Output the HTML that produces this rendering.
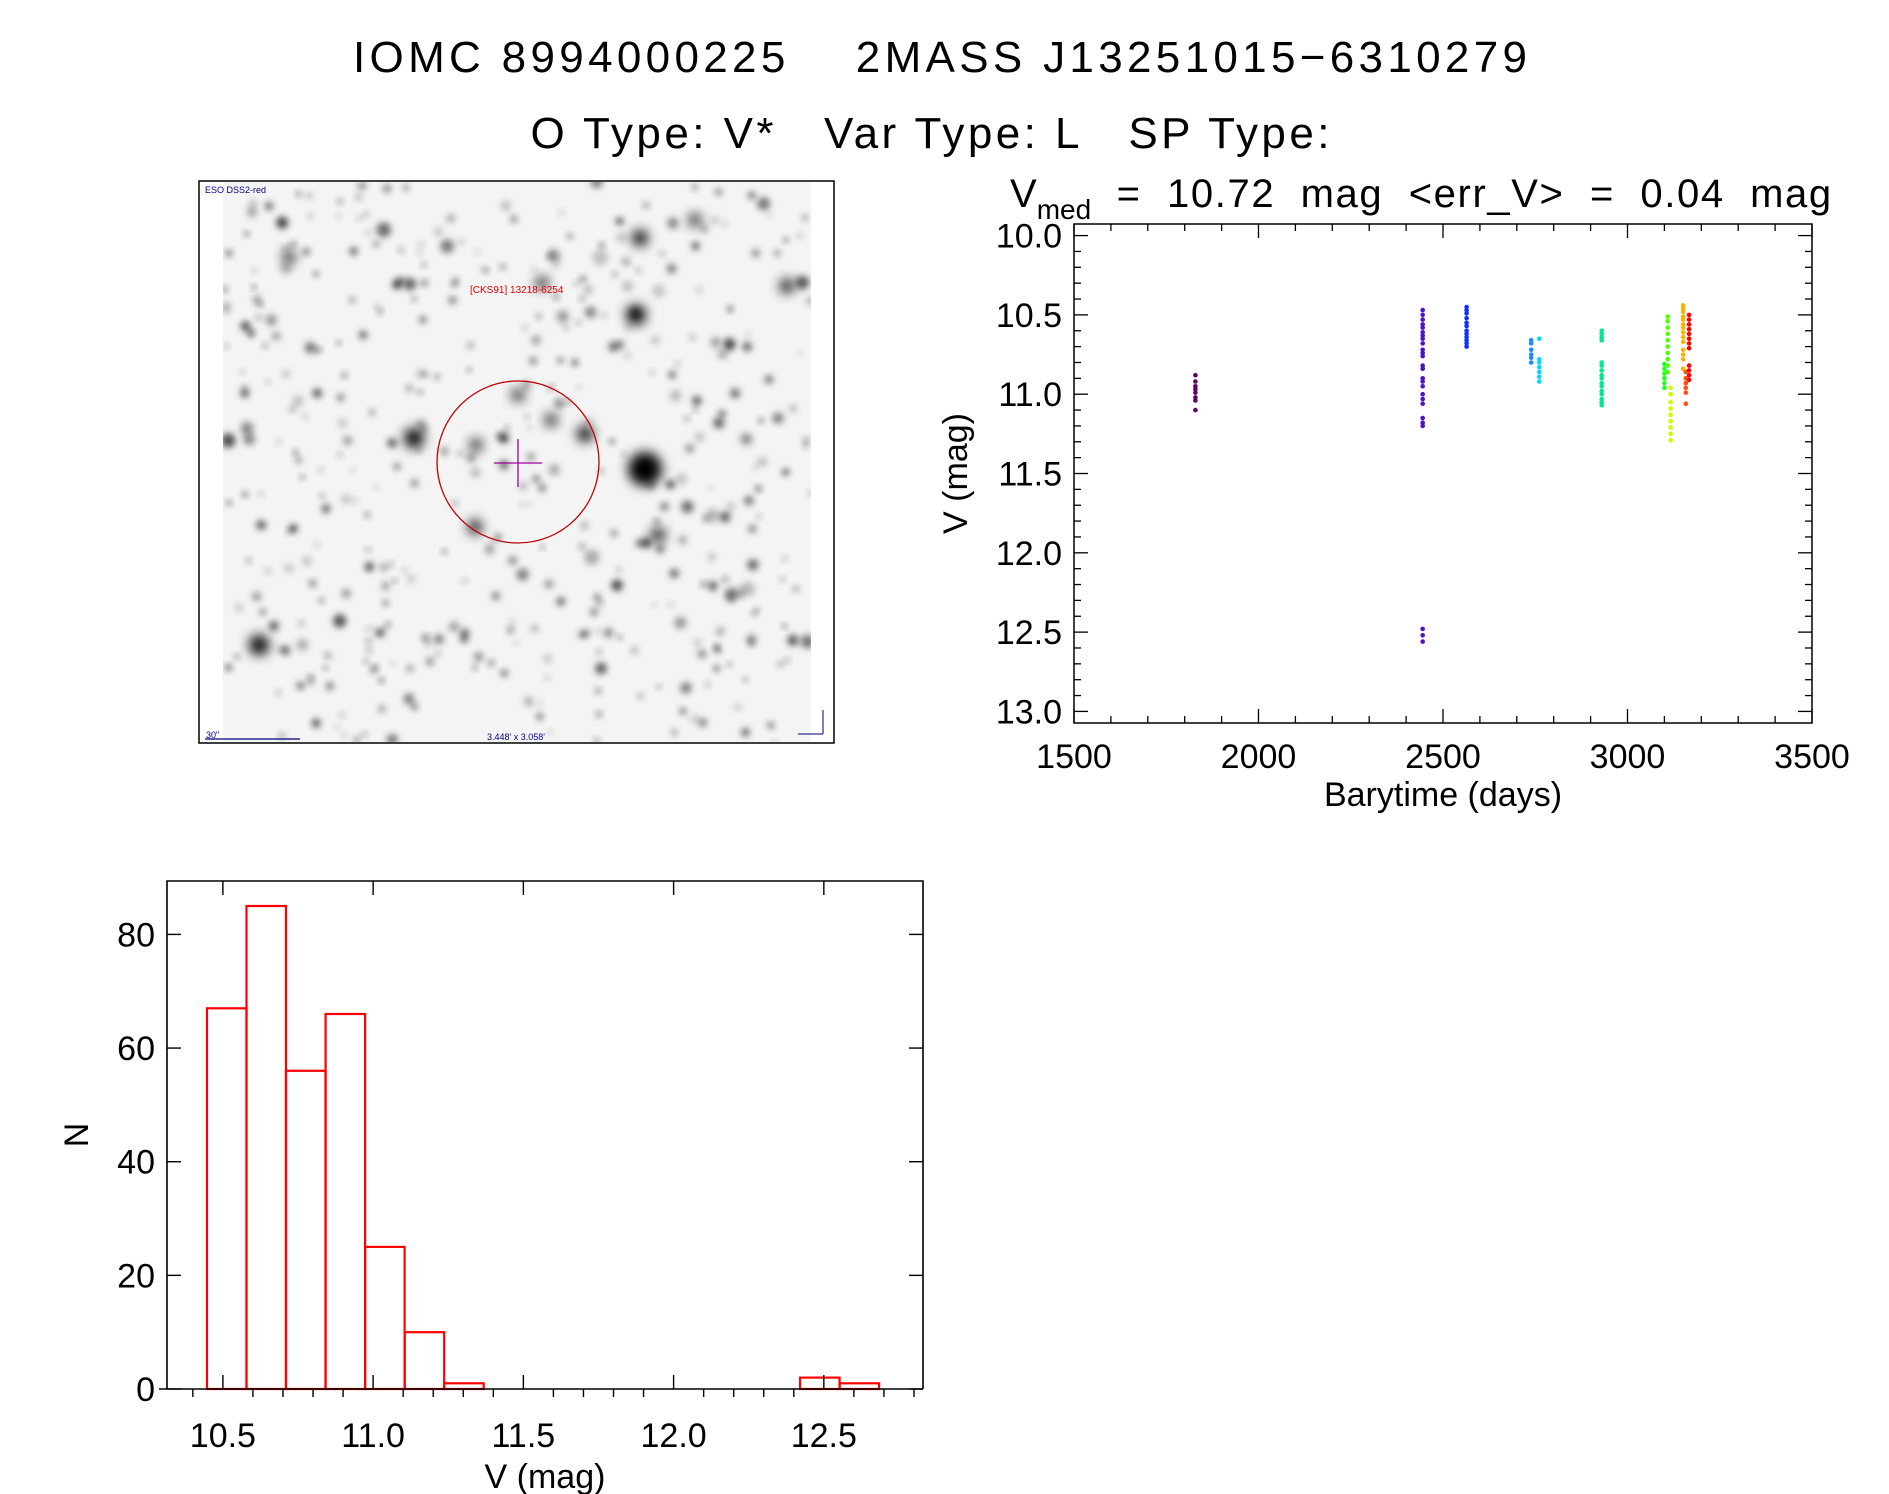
<!DOCTYPE html>
<html><head><meta charset="utf-8"><style>
html,body{margin:0;padding:0;background:#fff;}
svg{display:block;font-family:"Liberation Sans","DejaVu Sans",sans-serif;}
</style></head><body>
<svg id="fig" width="1889" height="1494" viewBox="0 0 1889 1494" xmlns="http://www.w3.org/2000/svg">
<defs>
<filter id="blur3" x="-80%" y="-80%" width="260%" height="260%"><feGaussianBlur stdDeviation="3.5"/></filter>
<filter id="blur6" x="-80%" y="-80%" width="260%" height="260%"><feGaussianBlur stdDeviation="6"/></filter>
<clipPath id="imgclip"><rect x="223" y="182" width="588" height="560"/></clipPath>
</defs>
<text x="940" y="72" font-size="44" text-anchor="middle" fill="#000" xml:space="preserve" textLength="1174" lengthAdjust="spacing">IOMC 8994000225    2MASS J13251015−6310279</text>
<text x="930" y="148" font-size="44" text-anchor="middle" fill="#000" xml:space="preserve" textLength="799" lengthAdjust="spacing">O Type: V*   Var Type: L   SP Type:</text>
<text x="1010" y="207" font-size="40" fill="#000" xml:space="preserve">V<tspan font-size="28" dy="12">med</tspan><tspan dy="-12" textLength="740" lengthAdjust="spacing">  =  10.72  mag  &lt;err_V&gt;  =  0.04  mag</tspan></text>

<g id="img">
<rect x="199" y="181" width="635" height="562" fill="#fff" stroke="#000" stroke-width="1.5"/>
<rect x="223" y="182" width="588" height="560" fill="#f4f4f4"/>
<g id="stars" clip-path="url(#imgclip)"></g>
<circle cx="518" cy="462" r="81" fill="none" stroke="#c00000" stroke-width="1.3"/>
<line x1="494" y1="463" x2="542" y2="463" stroke="#a000a0" stroke-width="1.3"/>
<line x1="518" y1="439" x2="518" y2="487" stroke="#a000a0" stroke-width="1.3"/>
<text x="205" y="193" font-size="9" fill="#000080">ESO DSS2-red</text>
<text x="470" y="293" font-size="10" fill="#e00000">[CKS91] 13218-6254</text>
<text x="206" y="738" font-size="9" fill="#000080">30"</text>
<line x1="205" y1="739" x2="300" y2="739" stroke="#000080" stroke-width="1.3"/>
<text x="487" y="740" font-size="9" fill="#000080">3.448' x 3.058'</text>
<line x1="823" y1="710" x2="823" y2="734" stroke="#000080"/>
<line x1="798" y1="734" x2="823" y2="734" stroke="#000080"/>
</g>

<g id="lc"></g>
<g id="hist"></g>
</svg>
<script>
// ---------- Light curve data ----------
const lcGroupTimes = [1829, 2445, 2564, 2739, 2761, 2930, 3100, 3109, 3117, 3151, 3158, 3167];
const lcGroupColors = ["#600068","#5010c8","#1030ff","#2088ff","#00d8ff","#00e890","#20ff20","#50ff00","#c8ff00","#ffb000","#ff5010","#ff0000"];
const lcGroupMags = [
 [10.88,10.92,10.95,10.97,10.99,11.02,11.04,11.10],
 [10.47,10.50,10.53,10.56,10.58,10.61,10.63,10.65,10.68,10.72,10.74,10.76,10.82,10.84,10.90,10.92,10.95,11.00,11.03,11.06,11.15,11.18,11.20,12.48,12.52,12.56],
 [10.45,10.47,10.49,10.52,10.55,10.57,10.60,10.62,10.64,10.66,10.68,10.70],
 [10.66,10.68,10.72,10.75,10.77,10.80],
 [10.65,10.78,10.80,10.83,10.86,10.89,10.92],
 [10.60,10.62,10.64,10.66,10.80,10.82,10.85,10.88,10.90,10.93,10.95,10.98,11.00,11.03,11.05,11.07],
 [10.81,10.84,10.87,10.90,10.93,10.96],
 [10.51,10.54,10.58,10.62,10.66,10.70,10.74,10.78,10.82,10.86],
 [10.96,11.00,11.05,11.09,11.13,11.17,11.21,11.25,11.29],
 [10.44,10.46,10.48,10.51,10.53,10.56,10.58,10.61,10.64,10.67,10.72,10.75,10.78,10.84],
 [10.86,10.90,10.93,10.96,10.99,11.06],
 [10.50,10.53,10.56,10.59,10.62,10.65,10.68,10.71,10.82,10.85,10.88,10.91]
];
const lcXTicks = [1500, 2000, 2500, 3000, 3500];
const lcYTicks = [10.0, 10.5, 11.0, 11.5, 12.0, 12.5, 13.0];
const lcXTickLabels = ["1500","2000","2500","3000","3500"];
const lcYTickLabels = ["10.0","10.5","11.0","11.5","12.0","12.5","13.0"];

// ---------- Histogram data ----------
const histStart = 10.447;
const histBinWidth = 0.1316;
const histCounts = [67,85,56,66,25,10,1,0,0,0,0,0,0,0,0,2,1];
const histXTicks = [10.5, 11.0, 11.5, 12.0, 12.5];
const histXTickLabels = ["10.5","11.0","11.5","12.0","12.5"];
const histYTicks = [0, 20, 40, 60, 80];
const histYTickLabels = ["0","20","40","60","80"];

const NS = "http://www.w3.org/2000/svg";
function mk(tag, attrs, parent){ const e=document.createElementNS(NS,tag); for(const k in attrs) e.setAttribute(k,attrs[k]); parent.appendChild(e); return e; }

// ---------- star field (decorative) ----------
(function(){
  const g=document.getElementById('stars');
  let s=98765; const rnd=()=>{ s=(s*1103515245+12345)%2147483648; return s/2147483648; };
  for(let i=0;i<420;i++){
    const x=223+rnd()*588, y=182+rnd()*560, r=2+rnd()*rnd()*6, o=0.2+rnd()*0.55;
    const c=mk('circle',{cx:x.toFixed(1),cy:y.toFixed(1),r:r.toFixed(1),fill:'#000','fill-opacity':o.toFixed(2),filter:'url(#blur3)'},g);
    
    
  }
  const big=[[645,469,17],[414,438,10],[585,434,8],[636,315,10],[551,420,6],[476,445,6],[259,645,10],[640,238,8],[695,220,6],[787,286,7],[518,395,6],[475,527,7],[658,535,7],[542,283,6],[289,257,6]];
  big.forEach(b=>{
    const c=mk('circle',{cx:b[0],cy:b[1],r:b[2],fill:'#000',filter:'url(#blur6)'},g);
    
    
  });
  mk('line',{x1:560,y1:469,x2:740,y2:469,stroke:'#555','stroke-width':2,filter:'url(#blur3)'},g);
  mk('line',{x1:645,y1:420,x2:645,y2:530,stroke:'#333','stroke-width':5,filter:'url(#blur3)'},g);
})();

// ---------- light curve ----------
(function(){
  const g=document.getElementById('lc');
  const L=1074,R=1812,T=224,B=723;
  const x0=1500,x1=3500,y0=9.927,y1=13.073;
  const sx=v=>L+(v-x0)/(x1-x0)*(R-L);
  const sy=v=>T+(v-y0)/(y1-y0)*(B-T);
  lcGroupTimes.forEach((t,gi)=>{
    lcGroupMags[gi].forEach(m=>{
      const c=mk('circle',{cx:sx(t).toFixed(1),cy:sy(m).toFixed(1),r:2.3,fill:lcGroupColors[gi]},g);
      
      
    });
  });
  const ax=mk('rect',{x:L,y:T,width:R-L,height:B-T,fill:'none',stroke:'#000','stroke-width':1.5},g);
  
  
  for(let v=1500;v<=3500;v+=100){
    const maj=(v%500===0), len=maj?14:7, x=sx(v);
    mk('line',{x1:x,y1:B,x2:x,y2:B-len,stroke:'#000','stroke-width':1.3},g);
    mk('line',{x1:x,y1:T,x2:x,y2:T+len,stroke:'#000','stroke-width':1.3},g);
  }
  for(let i=0;i<=30;i++){
    const v=10+i*0.1, maj=(i%5===0), len=maj?14:7, y=sy(v);
    mk('line',{x1:L,y1:y,x2:L+len,y2:y,stroke:'#000','stroke-width':1.3},g);
    mk('line',{x1:R,y1:y,x2:R-len,y2:y,stroke:'#000','stroke-width':1.3},g);
  }
  lcXTicks.forEach((v,i)=>{
    const t=mk('text',{x:sx(v),y:B+45,'font-size':34,'text-anchor':'middle'},g); t.textContent=lcXTickLabels[i];
    
    
  });
  lcYTicks.forEach((v,i)=>{
    const t=mk('text',{x:L-12,y:sy(v)+12,'font-size':34,'text-anchor':'end'},g); t.textContent=lcYTickLabels[i];
    
    
  });
  const xt=mk('text',{x:(L+R)/2,y:B+83,'font-size':34,'text-anchor':'middle'},g); xt.textContent='Barytime (days)';
  
  
  const yt=mk('text',{x:0,y:0,'font-size':34,'text-anchor':'middle',transform:`translate(967,${(T+B)/2}) rotate(-90)`},g); yt.textContent='V (mag)';
  
  
})();

// ---------- histogram ----------
(function(){
  const g=document.getElementById('hist');
  const L=167,R=923,T=881,B=1389;
  const x0=10.314,x1=12.83,y0=0,y1=89.4;
  const sx=v=>L+(v-x0)/(x1-x0)*(R-L);
  const sy=v=>B-(v-y0)/(y1-y0)*(B-T);
  histCounts.forEach((n,i)=>{
    const a=sx(histStart+i*histBinWidth), b=sx(histStart+(i+1)*histBinWidth);
    const r=mk('rect',{x:a.toFixed(1),y:sy(n).toFixed(1),width:(b-a).toFixed(1),height:(B-sy(n)).toFixed(1),fill:'none',stroke:'#ff0000','stroke-width':2.2},g);
    
    
  });
  const ax=mk('path',{d:`M${L},${B} L${L},${T} L${R},${T} L${R},${B} M${L-8},${B} L${R},${B}`,fill:'none',stroke:'#000','stroke-width':1.6},g);
  
  
  for(let i=0;i<=24;i++){
    const v=10.4+i*0.1; if(v>12.83) break;
    const maj=(Math.abs(v*2-Math.round(v*2))<1e-6), x=sx(v);
    mk('line',{x1:x,y1:B,x2:x,y2:B+(maj?-14:8),stroke:'#000','stroke-width':1.4},g);
    if(maj) mk('line',{x1:x,y1:T,x2:x,y2:T+14,stroke:'#000','stroke-width':1.4},g);
  }
  histYTicks.forEach((v,i)=>{
    const y=sy(v);
    mk('line',{x1:L,y1:y,x2:L+14,y2:y,stroke:'#000','stroke-width':1.4},g);
    mk('line',{x1:R,y1:y,x2:R-14,y2:y,stroke:'#000','stroke-width':1.4},g);
    const t=mk('text',{x:L-12,y:y+12,'font-size':34,'text-anchor':'end'},g); t.textContent=histYTickLabels[i];
    
    
  });
  histXTicks.forEach((v,i)=>{
    const t=mk('text',{x:sx(v),y:B+58,'font-size':34,'text-anchor':'middle'},g); t.textContent=histXTickLabels[i];
    
    
  });
  const xt=mk('text',{x:(L+R)/2,y:B+99,'font-size':34,'text-anchor':'middle'},g); xt.textContent='V (mag)';
  
  
  const yt=mk('text',{x:0,y:0,'font-size':34,'text-anchor':'middle',transform:`translate(88,${(T+B)/2}) rotate(-90)`},g); yt.textContent='N';
  
  
})();
</script>
</body></html>
